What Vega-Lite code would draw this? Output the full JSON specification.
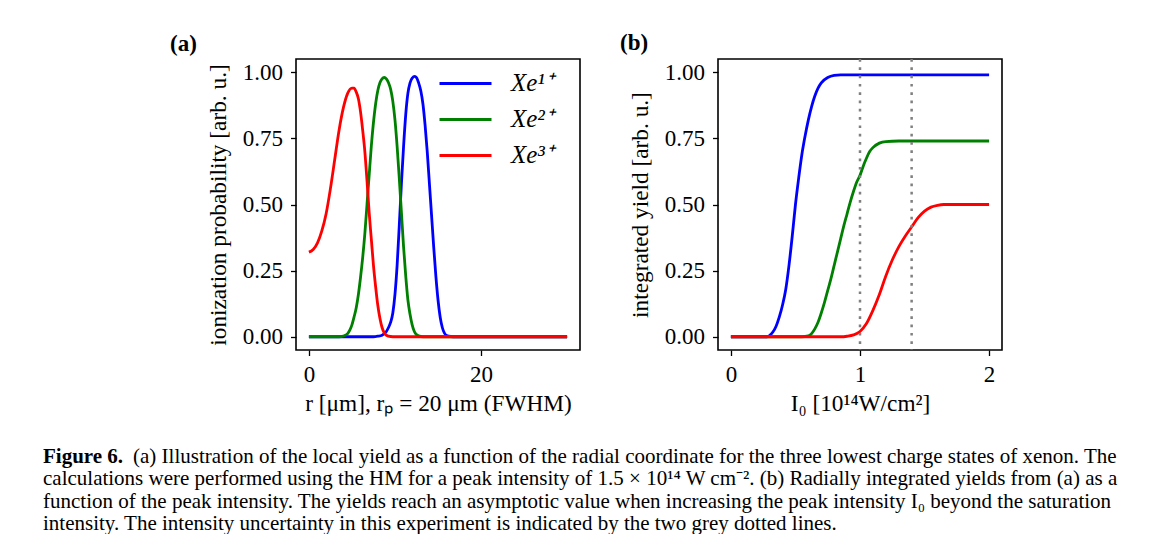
{
  "$schema": "https://vega.github.io/schema/vega-lite/v6.json",
  "padding": {"left": 43, "top": 30, "right": 0, "bottom": 0},
  "background": "white",
  "config": {
    "font": "Liberation Serif",
    "view": {"stroke": "black", "strokeWidth": 1.6},
    "axis": {"domain": false, "grid": false, "ticks": true, "tickColor": "black", "tickSize": 5.5, "tickWidth": 1.3,
      "labelFont": "Liberation Serif", "labelFontSize": 23, "labelColor": "black", "labelPadding": 8,
      "titleFont": "Liberation Serif", "titleFontSize": 23.3, "titleFontWeight": "normal", "titleColor": "black"},
    "axisY": {"titlePadding": 11.5, "labelPadding": 8},
    "axisX": {"titlePadding": 6, "labelPadding": 8, "labelFlush": false},
    "title": {"font": "Liberation Serif", "fontSize": 23, "fontWeight": "bold", "color": "black"}
  },
  "datasets": {
    "local": [
      {"r": 0, "p": 0, "ion": "Xe¹⁺"}, {"r": 7.5, "p": 0, "ion": "Xe¹⁺"}, {"r": 8.0, "p": 0.002, "ion": "Xe¹⁺"}, {"r": 8.5, "p": 0.006, "ion": "Xe¹⁺"}, {"r": 8.75, "p": 0.012, "ion": "Xe¹⁺"}, {"r": 9.0, "p": 0.02, "ion": "Xe¹⁺"}, {"r": 9.25, "p": 0.035, "ion": "Xe¹⁺"}, {"r": 9.5, "p": 0.055, "ion": "Xe¹⁺"}, {"r": 9.75, "p": 0.09, "ion": "Xe¹⁺"}, {"r": 10.0, "p": 0.16, "ion": "Xe¹⁺"}, {"r": 10.25, "p": 0.27, "ion": "Xe¹⁺"}, {"r": 10.5, "p": 0.42, "ion": "Xe¹⁺"}, {"r": 10.75, "p": 0.58, "ion": "Xe¹⁺"}, {"r": 11.0, "p": 0.72, "ion": "Xe¹⁺"}, {"r": 11.25, "p": 0.84, "ion": "Xe¹⁺"}, {"r": 11.5, "p": 0.92, "ion": "Xe¹⁺"}, {"r": 11.75, "p": 0.96, "ion": "Xe¹⁺"}, {"r": 12.0, "p": 0.978, "ion": "Xe¹⁺"}, {"r": 12.3, "p": 0.984, "ion": "Xe¹⁺"}, {"r": 12.5, "p": 0.98, "ion": "Xe¹⁺"}, {"r": 12.75, "p": 0.96, "ion": "Xe¹⁺"}, {"r": 13.0, "p": 0.93, "ion": "Xe¹⁺"}, {"r": 13.25, "p": 0.88, "ion": "Xe¹⁺"}, {"r": 13.5, "p": 0.8, "ion": "Xe¹⁺"}, {"r": 13.75, "p": 0.7, "ion": "Xe¹⁺"}, {"r": 14.0, "p": 0.58, "ion": "Xe¹⁺"}, {"r": 14.25, "p": 0.46, "ion": "Xe¹⁺"}, {"r": 14.5, "p": 0.34, "ion": "Xe¹⁺"}, {"r": 14.75, "p": 0.23, "ion": "Xe¹⁺"}, {"r": 15.0, "p": 0.14, "ion": "Xe¹⁺"}, {"r": 15.25, "p": 0.075, "ion": "Xe¹⁺"}, {"r": 15.5, "p": 0.035, "ion": "Xe¹⁺"}, {"r": 15.75, "p": 0.014, "ion": "Xe¹⁺"}, {"r": 16.0, "p": 0.005, "ion": "Xe¹⁺"}, {"r": 16.5, "p": 0.001, "ion": "Xe¹⁺"}, {"r": 17.0, "p": 0, "ion": "Xe¹⁺"}, {"r": 30.0, "p": 0, "ion": "Xe¹⁺"},
      {"r": 0, "p": 0, "ion": "Xe²⁺"}, {"r": 3.5, "p": 0, "ion": "Xe²⁺"}, {"r": 4.0, "p": 0.003, "ion": "Xe²⁺"}, {"r": 4.5, "p": 0.012, "ion": "Xe²⁺"}, {"r": 4.75, "p": 0.025, "ion": "Xe²⁺"}, {"r": 5.0, "p": 0.045, "ion": "Xe²⁺"}, {"r": 5.25, "p": 0.075, "ion": "Xe²⁺"}, {"r": 5.5, "p": 0.11, "ion": "Xe²⁺"}, {"r": 5.75, "p": 0.16, "ion": "Xe²⁺"}, {"r": 6.0, "p": 0.225, "ion": "Xe²⁺"}, {"r": 6.25, "p": 0.3, "ion": "Xe²⁺"}, {"r": 6.5, "p": 0.39, "ion": "Xe²⁺"}, {"r": 6.75, "p": 0.5, "ion": "Xe²⁺"}, {"r": 7.0, "p": 0.61, "ion": "Xe²⁺"}, {"r": 7.25, "p": 0.72, "ion": "Xe²⁺"}, {"r": 7.5, "p": 0.81, "ion": "Xe²⁺"}, {"r": 7.75, "p": 0.88, "ion": "Xe²⁺"}, {"r": 8.0, "p": 0.93, "ion": "Xe²⁺"}, {"r": 8.25, "p": 0.96, "ion": "Xe²⁺"}, {"r": 8.5, "p": 0.975, "ion": "Xe²⁺"}, {"r": 8.75, "p": 0.98, "ion": "Xe²⁺"}, {"r": 9.0, "p": 0.975, "ion": "Xe²⁺"}, {"r": 9.25, "p": 0.96, "ion": "Xe²⁺"}, {"r": 9.5, "p": 0.935, "ion": "Xe²⁺"}, {"r": 9.75, "p": 0.89, "ion": "Xe²⁺"}, {"r": 10.0, "p": 0.82, "ion": "Xe²⁺"}, {"r": 10.25, "p": 0.72, "ion": "Xe²⁺"}, {"r": 10.5, "p": 0.6, "ion": "Xe²⁺"}, {"r": 10.75, "p": 0.47, "ion": "Xe²⁺"}, {"r": 11.0, "p": 0.34, "ion": "Xe²⁺"}, {"r": 11.25, "p": 0.23, "ion": "Xe²⁺"}, {"r": 11.5, "p": 0.14, "ion": "Xe²⁺"}, {"r": 11.75, "p": 0.085, "ion": "Xe²⁺"}, {"r": 12.0, "p": 0.045, "ion": "Xe²⁺"}, {"r": 12.25, "p": 0.02, "ion": "Xe²⁺"}, {"r": 12.5, "p": 0.008, "ion": "Xe²⁺"}, {"r": 13.0, "p": 0.001, "ion": "Xe²⁺"}, {"r": 13.5, "p": 0, "ion": "Xe²⁺"}, {"r": 30.0, "p": 0, "ion": "Xe²⁺"},
      {"r": 0, "p": 0.32, "ion": "Xe³⁺"}, {"r": 0.5, "p": 0.33, "ion": "Xe³⁺"}, {"r": 1.0, "p": 0.355, "ion": "Xe³⁺"}, {"r": 1.5, "p": 0.4, "ion": "Xe³⁺"}, {"r": 2.0, "p": 0.465, "ion": "Xe³⁺"}, {"r": 2.5, "p": 0.56, "ion": "Xe³⁺"}, {"r": 3.0, "p": 0.67, "ion": "Xe³⁺"}, {"r": 3.5, "p": 0.78, "ion": "Xe³⁺"}, {"r": 4.0, "p": 0.865, "ion": "Xe³⁺"}, {"r": 4.5, "p": 0.92, "ion": "Xe³⁺"}, {"r": 5.0, "p": 0.94, "ion": "Xe³⁺"}, {"r": 5.25, "p": 0.94, "ion": "Xe³⁺"}, {"r": 5.5, "p": 0.925, "ion": "Xe³⁺"}, {"r": 5.75, "p": 0.9, "ion": "Xe³⁺"}, {"r": 6.0, "p": 0.85, "ion": "Xe³⁺"}, {"r": 6.25, "p": 0.78, "ion": "Xe³⁺"}, {"r": 6.5, "p": 0.7, "ion": "Xe³⁺"}, {"r": 6.75, "p": 0.59, "ion": "Xe³⁺"}, {"r": 7.0, "p": 0.47, "ion": "Xe³⁺"}, {"r": 7.25, "p": 0.37, "ion": "Xe³⁺"}, {"r": 7.5, "p": 0.27, "ion": "Xe³⁺"}, {"r": 7.75, "p": 0.19, "ion": "Xe³⁺"}, {"r": 8.0, "p": 0.12, "ion": "Xe³⁺"}, {"r": 8.25, "p": 0.07, "ion": "Xe³⁺"}, {"r": 8.5, "p": 0.035, "ion": "Xe³⁺"}, {"r": 8.75, "p": 0.015, "ion": "Xe³⁺"}, {"r": 9.0, "p": 0.006, "ion": "Xe³⁺"}, {"r": 9.5, "p": 0.001, "ion": "Xe³⁺"}, {"r": 10.0, "p": 0, "ion": "Xe³⁺"}, {"r": 30.0, "p": 0, "ion": "Xe³⁺"}
    ],
    "yield": [
      {"i0": 0, "y": 0, "ion": "Xe¹⁺"}, {"i0": 0.28, "y": 0, "ion": "Xe¹⁺"}, {"i0": 0.3, "y": 0.005, "ion": "Xe¹⁺"}, {"i0": 0.325, "y": 0.018, "ion": "Xe¹⁺"}, {"i0": 0.35, "y": 0.04, "ion": "Xe¹⁺"}, {"i0": 0.375, "y": 0.075, "ion": "Xe¹⁺"}, {"i0": 0.4, "y": 0.12, "ion": "Xe¹⁺"}, {"i0": 0.425, "y": 0.18, "ion": "Xe¹⁺"}, {"i0": 0.45, "y": 0.27, "ion": "Xe¹⁺"}, {"i0": 0.475, "y": 0.38, "ion": "Xe¹⁺"}, {"i0": 0.5, "y": 0.5, "ion": "Xe¹⁺"}, {"i0": 0.525, "y": 0.6, "ion": "Xe¹⁺"}, {"i0": 0.55, "y": 0.69, "ion": "Xe¹⁺"}, {"i0": 0.575, "y": 0.76, "ion": "Xe¹⁺"}, {"i0": 0.6, "y": 0.82, "ion": "Xe¹⁺"}, {"i0": 0.625, "y": 0.87, "ion": "Xe¹⁺"}, {"i0": 0.65, "y": 0.91, "ion": "Xe¹⁺"}, {"i0": 0.675, "y": 0.94, "ion": "Xe¹⁺"}, {"i0": 0.7, "y": 0.96, "ion": "Xe¹⁺"}, {"i0": 0.75, "y": 0.98, "ion": "Xe¹⁺"}, {"i0": 0.8, "y": 0.988, "ion": "Xe¹⁺"}, {"i0": 0.85, "y": 0.99, "ion": "Xe¹⁺"}, {"i0": 2.0, "y": 0.99, "ion": "Xe¹⁺"},
      {"i0": 0, "y": 0, "ion": "Xe²⁺"}, {"i0": 0.55, "y": 0, "ion": "Xe²⁺"}, {"i0": 0.6, "y": 0.003, "ion": "Xe²⁺"}, {"i0": 0.625, "y": 0.012, "ion": "Xe²⁺"}, {"i0": 0.65, "y": 0.03, "ion": "Xe²⁺"}, {"i0": 0.675, "y": 0.055, "ion": "Xe²⁺"}, {"i0": 0.7, "y": 0.09, "ion": "Xe²⁺"}, {"i0": 0.725, "y": 0.13, "ion": "Xe²⁺"}, {"i0": 0.75, "y": 0.175, "ion": "Xe²⁺"}, {"i0": 0.775, "y": 0.22, "ion": "Xe²⁺"}, {"i0": 0.8, "y": 0.27, "ion": "Xe²⁺"}, {"i0": 0.825, "y": 0.32, "ion": "Xe²⁺"}, {"i0": 0.85, "y": 0.37, "ion": "Xe²⁺"}, {"i0": 0.875, "y": 0.42, "ion": "Xe²⁺"}, {"i0": 0.9, "y": 0.465, "ion": "Xe²⁺"}, {"i0": 0.925, "y": 0.51, "ion": "Xe²⁺"}, {"i0": 0.95, "y": 0.55, "ion": "Xe²⁺"}, {"i0": 0.975, "y": 0.585, "ion": "Xe²⁺"}, {"i0": 1.0, "y": 0.61, "ion": "Xe²⁺"}, {"i0": 1.025, "y": 0.645, "ion": "Xe²⁺"}, {"i0": 1.05, "y": 0.675, "ion": "Xe²⁺"}, {"i0": 1.075, "y": 0.7, "ion": "Xe²⁺"}, {"i0": 1.1, "y": 0.715, "ion": "Xe²⁺"}, {"i0": 1.15, "y": 0.732, "ion": "Xe²⁺"}, {"i0": 1.2, "y": 0.738, "ion": "Xe²⁺"}, {"i0": 1.3, "y": 0.74, "ion": "Xe²⁺"}, {"i0": 2.0, "y": 0.74, "ion": "Xe²⁺"},
      {"i0": 0, "y": 0, "ion": "Xe³⁺"}, {"i0": 0.85, "y": 0, "ion": "Xe³⁺"}, {"i0": 0.9, "y": 0.002, "ion": "Xe³⁺"}, {"i0": 0.95, "y": 0.007, "ion": "Xe³⁺"}, {"i0": 1.0, "y": 0.02, "ion": "Xe³⁺"}, {"i0": 1.05, "y": 0.05, "ion": "Xe³⁺"}, {"i0": 1.1, "y": 0.1, "ion": "Xe³⁺"}, {"i0": 1.15, "y": 0.16, "ion": "Xe³⁺"}, {"i0": 1.2, "y": 0.23, "ion": "Xe³⁺"}, {"i0": 1.25, "y": 0.29, "ion": "Xe³⁺"}, {"i0": 1.3, "y": 0.34, "ion": "Xe³⁺"}, {"i0": 1.35, "y": 0.38, "ion": "Xe³⁺"}, {"i0": 1.4, "y": 0.415, "ion": "Xe³⁺"}, {"i0": 1.45, "y": 0.45, "ion": "Xe³⁺"}, {"i0": 1.5, "y": 0.475, "ion": "Xe³⁺"}, {"i0": 1.55, "y": 0.49, "ion": "Xe³⁺"}, {"i0": 1.6, "y": 0.497, "ion": "Xe³⁺"}, {"i0": 1.65, "y": 0.5, "ion": "Xe³⁺"}, {"i0": 2.0, "y": 0.5, "ion": "Xe³⁺"}
    ],
    "bounds": [{"i0": 1.0}, {"i0": 1.4}],
    "caption": [
      {"line": 1, "part": "head", "text": "Figure 6."},
      {"line": 1, "part": "body", "text": "(a) Illustration of the local yield as a function of the radial coordinate for the three lowest charge states of xenon. The"},
      {"line": 2, "part": "rest", "text": "calculations were performed using the HM for a peak intensity of 1.5 × 10¹⁴ W cm⁻². (b) Radially integrated yields from (a) as a"},
      {"line": 3, "part": "rest", "text": "function of the peak intensity. The yields reach an asymptotic value when increasing the peak intensity I₀ beyond the saturation"},
      {"line": 4, "part": "rest", "text": "intensity. The intensity uncertainty in this experiment is indicated by the two grey dotted lines."}
    ]
  },
  "vconcat": [
    {
      "hconcat": [
        {
          "width": 284, "height": 291,
          "title": {"text": "(a)", "anchor": "start", "frame": "group", "dx": -126, "offset": 3.2},
          "data": {"name": "local"},
          "mark": {"type": "line", "strokeWidth": 2.8, "clip": true, "interpolate": "monotone"},
          "encoding": {
            "x": {"field": "r", "type": "quantitative", "scale": {"domain": [-1.5, 31.5], "nice": false, "zero": false},
              "axis": {"values": [0, 20], "title": "r [μm], rₚ = 20 μm (FWHM)"}},
            "y": {"field": "p", "type": "quantitative", "scale": {"domain": [-0.05, 1.05], "nice": false, "zero": false},
              "axis": {"values": [0, 0.25, 0.5, 0.75, 1.0], "format": ".2f", "title": "ionization probability [arb. u.]"}},
            "color": {"field": "ion", "type": "nominal",
              "scale": {"domain": ["Xe¹⁺", "Xe²⁺", "Xe³⁺"], "range": ["#0000ff", "#008000", "#ff0000"]},
              "legend": {"orient": "none", "legendX": 142, "legendY": 6.6, "title": null, "symbolType": "stroke", "symbolSize": 2704, "symbolStrokeWidth": 3,
                "clipHeight": 35.7, "labelFont": "Liberation Serif", "labelFontSize": 25, "labelFontStyle": "italic", "labelColor": "black",
                "labelOffset": 18, "rowPadding": 0, "padding": 0}}
          }
        },
        {
          "width": 284, "height": 291,
          "title": {"text": "(b)", "anchor": "start", "frame": "group", "dx": -98, "offset": 3.2},
          "layer": [
            {
              "data": {"name": "yield"},
              "mark": {"type": "line", "strokeWidth": 2.8, "clip": true, "interpolate": "monotone"},
              "encoding": {
                "x": {"field": "i0", "type": "quantitative", "scale": {"domain": [-0.1, 2.1], "nice": false, "zero": false},
                  "axis": {"values": [0, 1, 2], "format": "d", "title": "I₀ [10¹⁴W/cm²]"}},
                "y": {"field": "y", "type": "quantitative", "scale": {"domain": [-0.05, 1.05], "nice": false, "zero": false},
                  "axis": {"values": [0, 0.25, 0.5, 0.75, 1.0], "format": ".2f", "title": "integrated yield [arb. u.]"}},
                "color": {"field": "ion", "type": "nominal",
                  "scale": {"domain": ["Xe¹⁺", "Xe²⁺", "Xe³⁺"], "range": ["#0000ff", "#008000", "#ff0000"]},
                  "legend": null}
              }
            },
            {
              "data": {"name": "bounds"},
              "mark": {"type": "rule", "color": "#808080", "strokeWidth": 2.5, "strokeDash": [2.7, 5.6]},
              "encoding": {
                "x": {"field": "i0", "type": "quantitative"}
              }
            }
          ]
        }
      ],
      "bounds": "flush",
      "spacing": 138,
      "resolve": {"legend": {"color": "independent"}}
    },
    {
      "width": 1000, "height": 67,
      "view": {"stroke": null},
      "data": {"name": "caption"},
      "encoding": {
        "y": {"field": "line", "type": "ordinal", "scale": {"type": "point", "padding": 0}, "axis": null},
        "text": {"field": "text", "type": "nominal"}
      },
      "layer": [
        {"transform": [{"filter": "datum.part === 'head'"}],
         "mark": {"type": "text", "align": "left", "baseline": "alphabetic", "font": "Liberation Serif", "fontSize": 21, "fontWeight": "bold", "color": "black"},
         "encoding": {"x": {"value": -253}}},
        {"transform": [{"filter": "datum.part === 'body'"}],
         "mark": {"type": "text", "align": "left", "baseline": "alphabetic", "font": "Liberation Serif", "fontSize": 21, "dx": 90, "color": "black"},
         "encoding": {"x": {"value": -253}}},
        {"transform": [{"filter": "datum.part === 'rest'"}],
         "mark": {"type": "text", "align": "left", "baseline": "alphabetic", "font": "Liberation Serif", "fontSize": 21, "color": "black"},
         "encoding": {"x": {"value": -253}}}
      ]
    }
  ],
  "bounds": "flush",
  "spacing": 404
}
